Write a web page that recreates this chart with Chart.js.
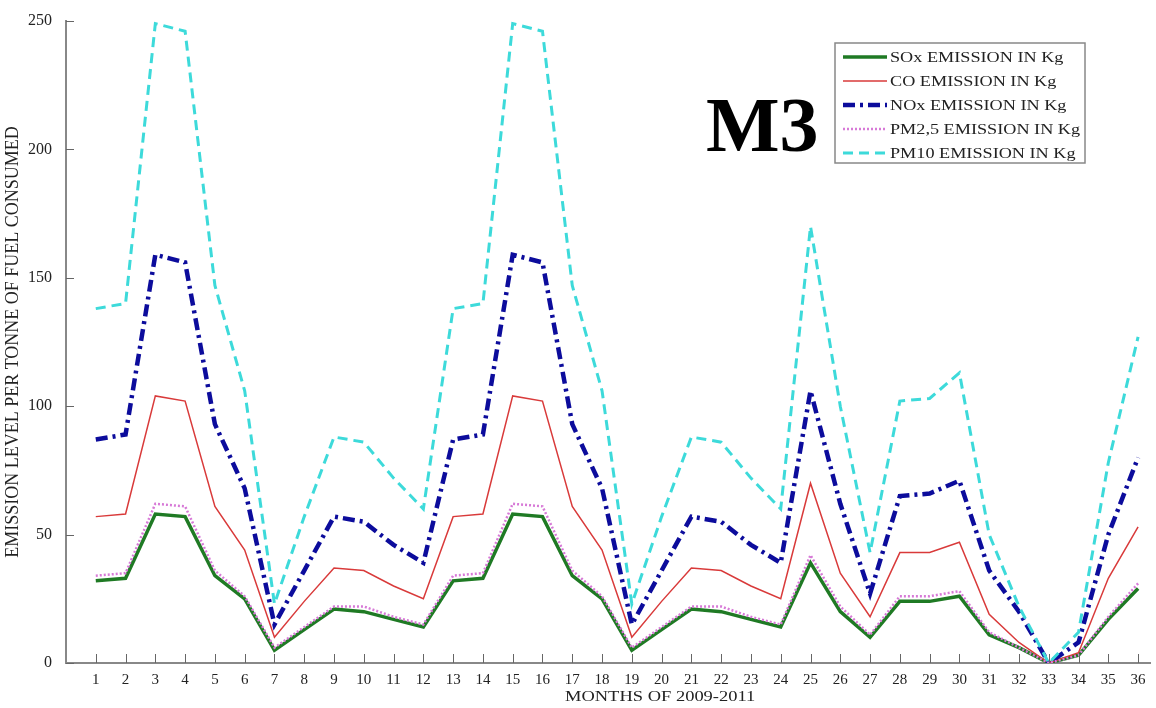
<!DOCTYPE html>
<html>
<head>
<meta charset="utf-8">
<script src="https://cdn.jsdelivr.net/npm/chart.js@4.4.0/dist/chart.umd.min.js"></script>
<style>
    body { margin: 0; background: #fff; }
    canvas { display: block; }
</style>
</head>
<body>
<canvas id="emissions" width="1156" height="708"></canvas>
<script>
// Months 1..36 (2009-2011) and the emission levels.
const months = [1, 2, 3, 4, 5, 6, 7, 8, 9, 10, 11, 12, 13, 14, 15, 16, 17, 18,
    19, 20, 21, 22, 23, 24, 25, 26, 27, 28, 29, 30, 31, 32, 33, 34, 35, 36];

const soxValues = [32, 33, 58, 57, 34, 25, 5, 13, 21, 20, 17, 14, 32, 33, 58, 57, 34, 25,
    5, 13, 21, 20, 17, 14, 39, 20, 10, 24, 24, 26, 11, 6, 0, 3, 17, 29];
const coValues = [57, 58, 104, 102, 61, 44, 10, 24, 37, 36, 30, 25, 57, 58, 104, 102, 61, 44,
    10, 24, 37, 36, 30, 25, 70, 35, 18, 43, 43, 47, 19, 8, 0, 4, 33, 53];
const noxValues = [87, 89, 159, 156, 93, 68, 15, 36, 57, 55, 46, 39, 87, 89, 159, 156, 93, 68,
    15, 36, 57, 55, 46, 39, 106, 62, 27, 65, 66, 71, 36, 20, 0, 8, 50, 80];
const pm25Values = [34, 35, 62, 61, 36, 26, 6, 14, 22, 22, 18, 15, 34, 35, 62, 61, 36, 26,
    6, 14, 22, 22, 18, 15, 42, 22, 11, 26, 26, 28, 12, 6, 0, 3, 18, 31];
const pm10Values = [138, 140, 249, 246, 147, 106, 23, 57, 88, 86, 72, 60, 138, 140, 249, 246, 147, 106,
    23, 57, 88, 86, 72, 60, 170, 100, 43, 102, 103, 113, 50, 22, 0, 12, 78, 127];

const yTicks = [0, 50, 100, 150, 200, 250];

const serif = "'Liberation Serif', 'DejaVu Serif', serif";

function toPoints(values) {
    return months.map((m, i) => ({x: m, y: values[i]}));
}

// The scanned figure is a bit stretched sideways, so the text is too.
function wideText(ctx, text, x, y, stretch) {
    ctx.save();
    ctx.translate(x, y);
    ctx.scale(stretch, 1);
    ctx.fillText(text, 0, 0);
    ctx.restore();
}

// MATLAB style tick marks that point into the plot area.
const innerTicks = {
    id: "innerTicks",
    afterDatasetsDraw(chart) {
        const {ctx, chartArea, scales} = chart;
        ctx.save();
        ctx.strokeStyle = "#666";
        ctx.lineWidth = 1;
        ctx.beginPath();
        for (const m of months) {
            const x = Math.round(scales.x.getPixelForValue(m)) + 0.5;
            ctx.moveTo(x, chartArea.bottom);
            ctx.lineTo(x, chartArea.bottom - 9);
        }
        for (const v of yTicks) {
            const y = Math.round(scales.y.getPixelForValue(v)) + 0.5;
            ctx.moveTo(chartArea.left, y);
            ctx.lineTo(chartArea.left + 8, y);
        }
        ctx.stroke();
        ctx.restore();
    }
};

// Boxed legend with line samples, the big "M3" label and the x axis title.
const boxLegend = {
    id: "boxLegend",
    afterDraw(chart) {
        const {ctx} = chart;
        const datasets = chart.data.datasets;
        ctx.save();

        ctx.font = "bold 78px " + serif;
        ctx.fillStyle = "#000";
        ctx.textBaseline = "alphabetic";
        ctx.fillText("M3", 706, 151);

        // x axis title sits right of the centre in the original
        ctx.font = "14px " + serif;
        ctx.fillStyle = "#222";
        ctx.textBaseline = "middle";
        wideText(ctx, "MONTHS OF 2009-2011", 565, 697, 1.32);

        const left = 835, top = 43, width = 250, height = 120;
        ctx.fillStyle = "#fff";
        ctx.fillRect(left, top, width, height);
        ctx.strokeStyle = "#888";
        ctx.lineWidth = 1.5;
        ctx.strokeRect(left, top, width, height);

        ctx.font = "14px " + serif;
        datasets.forEach((ds, i) => {
            const y = 57 + i * 24;
            ctx.strokeStyle = ds.borderColor;
            ctx.lineWidth = ds.borderWidth;
            ctx.setLineDash(ds.borderDash || []);
            ctx.beginPath();
            ctx.moveTo(843, y);
            ctx.lineTo(887, y);
            ctx.stroke();
            ctx.setLineDash([]);
            ctx.fillStyle = "#222";
            wideText(ctx, ds.label, 890, y + 1, 1.3);
        });
        ctx.restore();
    }
};

new Chart(document.getElementById("emissions"), {
    type: "line",
    data: {
        datasets: [
            {
                label: "SOx EMISSION IN Kg",
                data: toPoints(soxValues),
                borderColor: "#1f7a24",
                borderWidth: 3.5,
                order: 4,
            },
            {
                label: "CO EMISSION IN Kg",
                data: toPoints(coValues),
                borderColor: "#d93a3a",
                borderWidth: 1.5,
                order: 3,
            },
            {
                label: "NOx EMISSION IN Kg",
                data: toPoints(noxValues),
                borderColor: "#0c0c9c",
                borderWidth: 4.5,
                borderDash: [12, 5, 3, 5],
                order: 2,
            },
            {
                label: "PM2,5 EMISSION IN Kg",
                data: toPoints(pm25Values),
                borderColor: "#d77ad7",
                borderWidth: 2.5,
                borderDash: [2, 2],
                order: 1,
            },
            {
                label: "PM10 EMISSION IN Kg",
                data: toPoints(pm10Values),
                borderColor: "#3ddada",
                borderWidth: 3,
                borderDash: [10, 6],
                order: 0,
            },
        ]
    },
    options: {
        responsive: false,
        animation: false,
        elements: {
            point: {radius: 0},
            line: {tension: 0},
        },
        layout: {
            padding: {top: 21, right: 6, left: 0, bottom: 0},
        },
        scales: {
            x: {
                type: "linear",
                min: 0,
                max: 36.4,
                afterBuildTicks: scale => {
                    scale.ticks = months.map(m => ({value: m}));
                },
                afterFit: scale => {
                    scale.height = 45;
                },
                grid: {display: false},
                border: {display: true, color: "#888", width: 2},
                ticks: {
                    autoSkip: false,
                    maxRotation: 0,
                    padding: 0,
                    color: "#222",
                    font: {family: serif, size: 15},
                },
            },
            y: {
                min: 0,
                max: 250,
                afterBuildTicks: scale => {
                    scale.ticks = yTicks.map(v => ({value: v}));
                },
                afterFit: scale => {
                    scale.width = 66;
                },
                grid: {display: false},
                border: {display: true, color: "#888", width: 2},
                ticks: {
                    padding: 6,
                    color: "#222",
                    font: {family: serif, size: 16},
                },
                title: {
                    display: true,
                    text: "EMISSION LEVEL PER TONNE OF FUEL CONSUMED",
                    color: "#222",
                    padding: {top: 2, bottom: 0},
                    font: {family: serif, size: 18},
                },
            },
        },
        plugins: {
            legend: {display: false},
            tooltip: {enabled: false},
        },
    },
    plugins: [innerTicks, boxLegend],
});
</script>
</body>
</html>
